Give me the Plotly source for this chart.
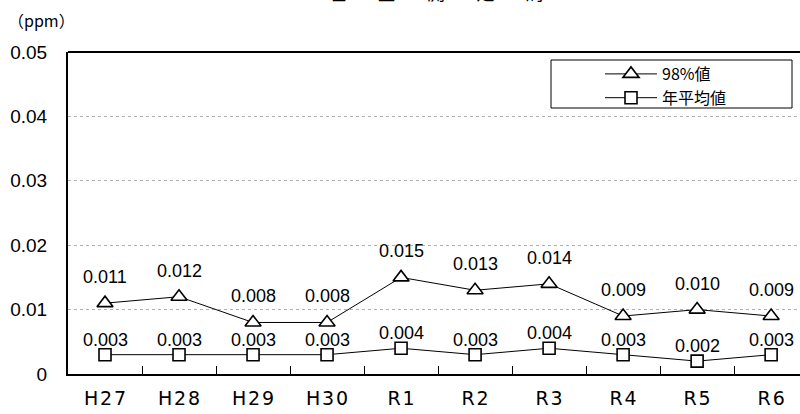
import plotly.graph_objects as go

categories = ["H27", "H28", "H29", "H30", "R1", "R2", "R3", "R4", "R5", "R6"]
p98 = [0.011, 0.012, 0.008, 0.008, 0.015, 0.013, 0.014, 0.009, 0.010, 0.009]
annual_mean = [0.003, 0.003, 0.003, 0.003, 0.004, 0.003, 0.004, 0.003, 0.002, 0.003]
series_names = ["98%値", "年平均値"]
y_ticks = [0, 0.01, 0.02, 0.03, 0.04, 0.05]
y_tick_text = ["0", "0.01", "0.02", "0.03", "0.04", "0.05"]

JP = "Noto Sans CJK JP"
NUM = "Liberation Sans"
L, T, W, H = 68, 52, 732, 322  # plot area in px


def px_x(x):
    return (x - L) / W


def px_y(y):
    return (T + H - y) / H


fig = go.Figure()
fig.add_trace(go.Scatter(
    x=categories, y=p98, name=series_names[0], mode="lines+markers",
    line=dict(color="black", width=1),
    marker=dict(symbol="triangle-up", size=14, color="white", line=dict(color="black", width=1.6)),
))
fig.add_trace(go.Scatter(
    x=categories, y=annual_mean, name=series_names[1], mode="lines+markers",
    line=dict(color="black", width=1),
    marker=dict(symbol="square", size=12, color="white", line=dict(color="black", width=1.6)),
))

annotations = []
for series, shift in ((p98, 26), (annual_mean, 15)):
    for c, v in zip(categories, series):
        annotations.append(dict(x=c, y=v, xref="x", yref="y", text=f"{v:.3f}", showarrow=False,
                                yanchor="middle", yshift=shift,
                                font=dict(family=NUM, size=18, color="black")))

annotations.append(dict(text="（ppm）", xref="paper", yref="paper", x=px_x(6), y=px_y(20),
                        xanchor="left", yanchor="middle", showarrow=False,
                        font=dict(family=JP, size=16, color="black")))
gap = "\u2003\u2002\u2005"
annotations.append(dict(text=gap.join(["塩", "釜", "測", "定", "局"]), xref="paper", yref="paper",
                        x=px_x(436), y=px_y(7), xanchor="center", yanchor="bottom", showarrow=False,
                        font=dict(family=JP, size=18, color="black")))

tick_text = ["\u200a".join(list(c)) for c in categories]

fig.update_layout(
    width=800, height=414,
    margin=dict(l=L, r=0, t=T, b=414 - T - H),
    paper_bgcolor="white", plot_bgcolor="white",
    font=dict(family=JP, color="black"),
    showlegend=True,
    legend=dict(x=px_x(600), y=px_y(57), xanchor="left", yanchor="top",
                bgcolor="rgba(0,0,0,0)", borderwidth=0,
                font=dict(family=JP, size=16, color="black"),
                itemwidth=52, tracegroupgap=0),
    xaxis=dict(type="category", range=[-0.5, 9.39], showline=True, linecolor="black", linewidth=2,
               ticks="inside", ticklen=8, tickcolor="black", tickwidth=1, tickson="boundaries",
               tickvals=categories, ticktext=tick_text,
               showgrid=False, tickfont=dict(family="DejaVu Sans", size=19, color="black"),
               ticklabelstandoff=6),
    yaxis=dict(range=[0, 0.05], tickvals=y_ticks, ticktext=y_tick_text, showline=True,
               linecolor="black", linewidth=2, ticks="", showgrid=True, gridcolor="#b0b0b0",
               griddash="dot", gridwidth=1, zeroline=False,
               tickfont=dict(family=NUM, size=19, color="black"), ticklabelstandoff=15),
    shapes=[
        dict(type="line", xref="paper", yref="paper", x0=0, x1=1, y0=1, y1=1,
             line=dict(color="black", width=2)),
        dict(type="rect", xref="paper", yref="paper", x0=px_x(551), x1=px_x(792),
             y0=px_y(108), y1=px_y(60), line=dict(color="black", width=1)),
    ],
    annotations=annotations,
)

fig.write_html("out.html", config={"displayModeBar": False},
               post_script="document.body.style.margin='0';document.body.style.overflow='hidden';")
